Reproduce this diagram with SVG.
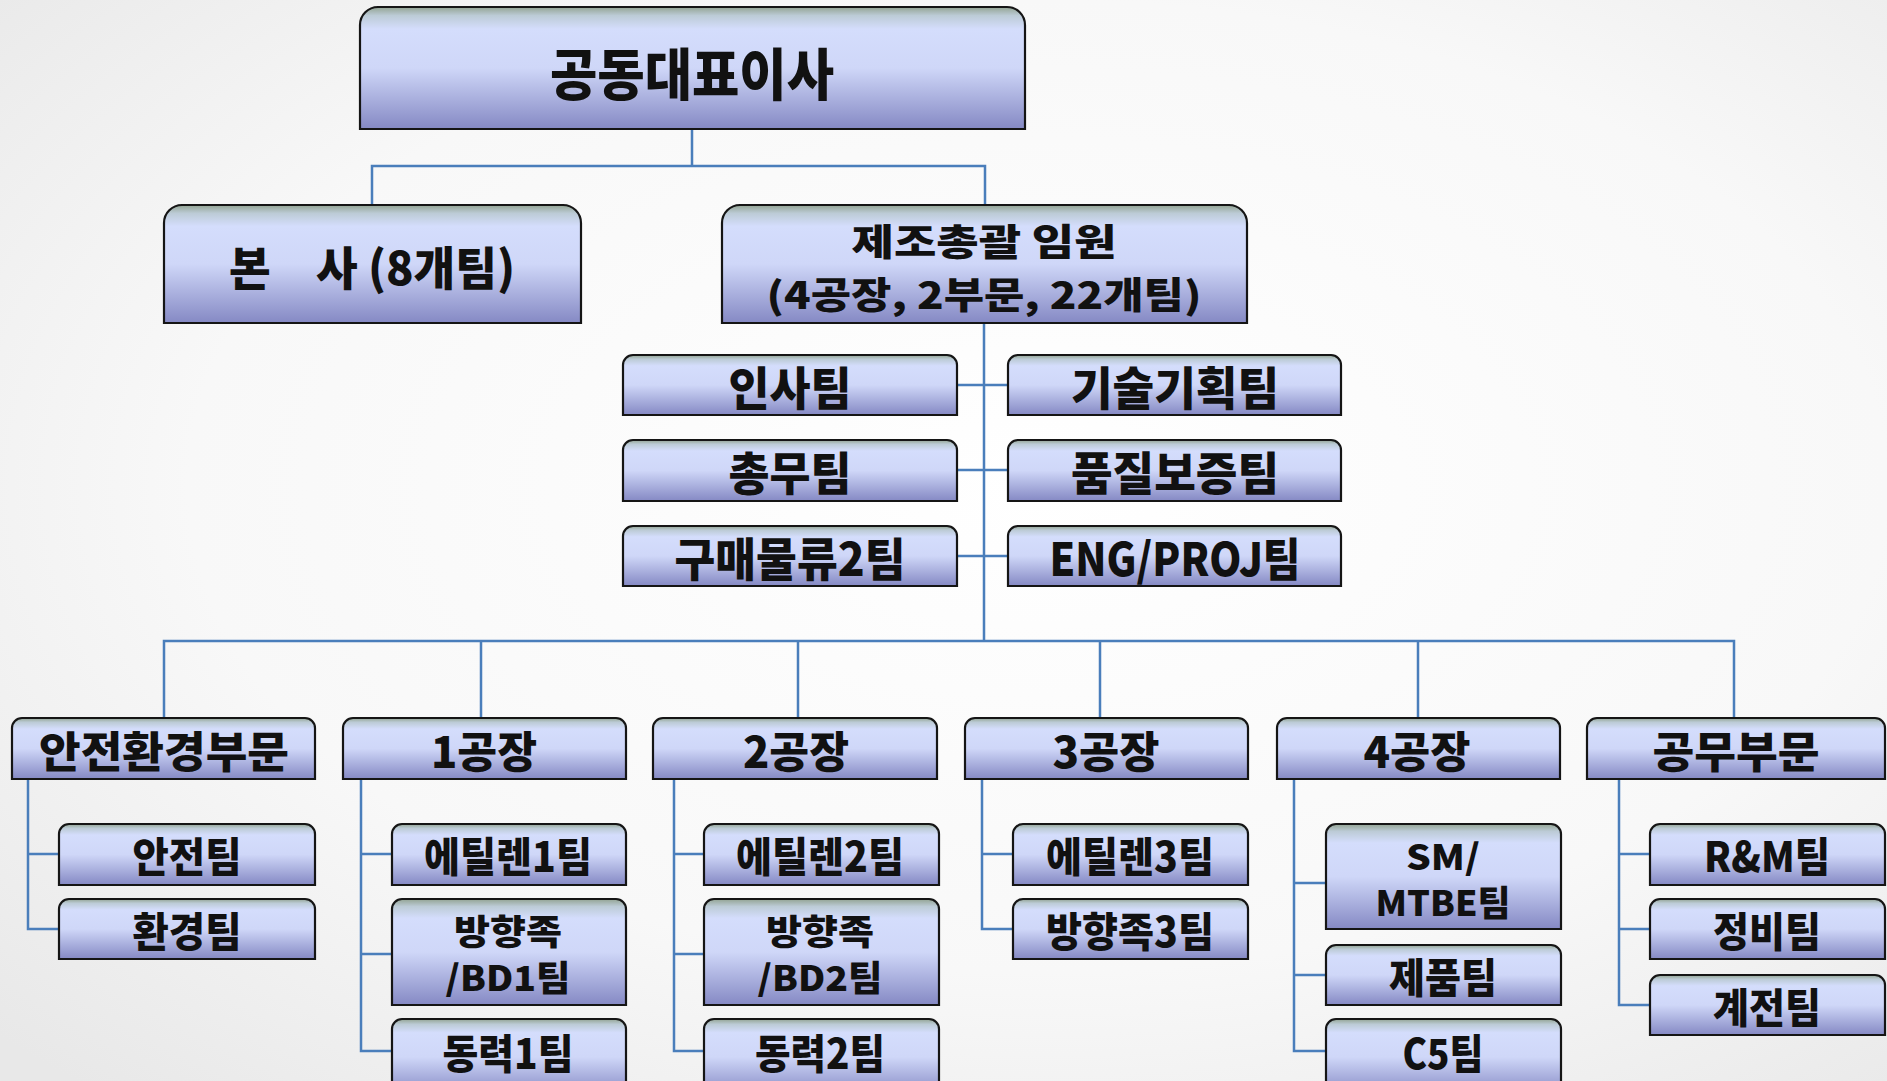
<svg xmlns="http://www.w3.org/2000/svg" width="1887" height="1081" viewBox="0 0 1887 1081">
<defs>
<radialGradient id="bg" cx="55%" cy="45%" r="75%">
<stop offset="0" stop-color="#ffffff"/>
<stop offset="0.6" stop-color="#f8f8f8"/>
<stop offset="1" stop-color="#e8e8e8"/>
</radialGradient>
<linearGradient id="g" x1="0" y1="0" x2="0" y2="1">
<stop offset="0" stop-color="#92a392"/>
<stop offset="0.07" stop-color="#bccbd6"/>
<stop offset="0.18" stop-color="#d4ddfc"/>
<stop offset="0.5" stop-color="#cfd7f8"/>
<stop offset="1" stop-color="#8589c4"/>
</linearGradient>
<style>
.b{fill:url(#g);stroke:#151515;stroke-width:2.2}
.t{font-family:"Noto Sans CJK KR","Noto Sans",sans-serif;font-weight:900;fill:#111;text-anchor:middle;dominant-baseline:central}
.c{fill:none;stroke:#4a7ebb;stroke-width:2.5}
.f56{font-size:56px}.f46{font-size:46px}.f37{font-size:37px}.f43{font-size:43px}.f41{font-size:41px}.f35{font-size:35px}
</style>
</defs>
<rect width="1887" height="1081" fill="url(#bg)"/>
<g id="connectors">
<path class="c" d="M692 129V166M372 205V166H985V205"/>
<path class="c" d="M984 323V641M957 385H1008M957 470H1008M957 556H1008"/>
<path class="c" d="M164 718V641H1734V718M481 641V718M798 641V718M1100 641V718M1418 641V718"/>
<path class="c" d="M28 779V929H59M28 854H59"/>
<path class="c" d="M361 779V1051H392M361 854H392M361 954H392"/>
<path class="c" d="M674 779V1051H704M674 854H704M674 954H704"/>
<path class="c" d="M982 779V929H1013M982 854H1013"/>
<path class="c" d="M1294 779V1051H1326M1294 883H1326M1294 975H1326"/>
<path class="c" d="M1619 779V1005H1650M1619 854H1650M1619 929H1650"/>
</g>
<g id="n-ceo"><path class="b" d="M360 129V25A18 18 0 0 1 378 7H1007A18 18 0 0 1 1025 25V129Z"/><text class="t f56" x="692" y="70" textLength="284" lengthAdjust="spacingAndGlyphs">공동대표이사</text></g>
<g id="n-hq"><path class="b" d="M164 323V223A18 18 0 0 1 182 205H563A18 18 0 0 1 581 223V323Z"/><text class="t f46" x="372" y="265" textLength="286" lengthAdjust="spacingAndGlyphs">본　사 (8개팀)</text></g>
<g id="n-mfg"><path class="b" d="M722 323V223A18 18 0 0 1 740 205H1229A18 18 0 0 1 1247 223V323Z"/><text class="t f37"><tspan x="984" y="240" textLength="265" lengthAdjust="spacingAndGlyphs">제조총괄 임원</tspan><tspan x="984" y="293" textLength="435" lengthAdjust="spacingAndGlyphs">(4공장, 2부문, 22개팀)</tspan></text></g>
<g id="n-hr"><path class="b" d="M623 415V365A10 10 0 0 1 633 355H947A10 10 0 0 1 957 365V415Z"/><text class="t f46" x="790" y="385" textLength="123" lengthAdjust="spacingAndGlyphs">인사팀</text></g>
<g id="n-tech"><path class="b" d="M1008 415V365A10 10 0 0 1 1018 355H1331A10 10 0 0 1 1341 365V415Z"/><text class="t f46" x="1175" y="385" textLength="208" lengthAdjust="spacingAndGlyphs">기술기획팀</text></g>
<g id="n-ga"><path class="b" d="M623 501V450A10 10 0 0 1 633 440H947A10 10 0 0 1 957 450V501Z"/><text class="t f46" x="790" y="470" textLength="123" lengthAdjust="spacingAndGlyphs">총무팀</text></g>
<g id="n-qa"><path class="b" d="M1008 501V450A10 10 0 0 1 1018 440H1331A10 10 0 0 1 1341 450V501Z"/><text class="t f46" x="1175" y="470" textLength="208" lengthAdjust="spacingAndGlyphs">품질보증팀</text></g>
<g id="n-pur"><path class="b" d="M623 586V536A10 10 0 0 1 633 526H947A10 10 0 0 1 957 536V586Z"/><text class="t f46" x="790" y="556" textLength="231" lengthAdjust="spacingAndGlyphs">구매물류2팀</text></g>
<g id="n-eng"><path class="b" d="M1008 586V536A10 10 0 0 1 1018 526H1331A10 10 0 0 1 1341 536V586Z"/><text class="t f46" x="1175" y="556" textLength="251" lengthAdjust="spacingAndGlyphs">ENG/PROJ팀</text></g>
<g id="n-safety-div"><path class="b" d="M12 779V728A10 10 0 0 1 22 718H305A10 10 0 0 1 315 728V779Z"/><text class="t f43" x="164" y="749" textLength="250" lengthAdjust="spacingAndGlyphs">안전환경부문</text></g>
<g id="n-p1"><path class="b" d="M343 779V728A10 10 0 0 1 353 718H616A10 10 0 0 1 626 728V779Z"/><text class="t f43" x="484" y="749" textLength="106" lengthAdjust="spacingAndGlyphs">1공장</text></g>
<g id="n-p2"><path class="b" d="M653 779V728A10 10 0 0 1 663 718H927A10 10 0 0 1 937 728V779Z"/><text class="t f43" x="796" y="749" textLength="106" lengthAdjust="spacingAndGlyphs">2공장</text></g>
<g id="n-p3"><path class="b" d="M965 779V728A10 10 0 0 1 975 718H1238A10 10 0 0 1 1248 728V779Z"/><text class="t f43" x="1106" y="749" textLength="107" lengthAdjust="spacingAndGlyphs">3공장</text></g>
<g id="n-p4"><path class="b" d="M1277 779V728A10 10 0 0 1 1287 718H1550A10 10 0 0 1 1560 728V779Z"/><text class="t f43" x="1417" y="749" textLength="107" lengthAdjust="spacingAndGlyphs">4공장</text></g>
<g id="n-works"><path class="b" d="M1587 779V728A10 10 0 0 1 1597 718H1875A10 10 0 0 1 1885 728V779Z"/><text class="t f43" x="1736" y="749" textLength="167" lengthAdjust="spacingAndGlyphs">공무부문</text></g>
<g id="n-safety"><path class="b" d="M59 885V834A10 10 0 0 1 69 824H305A10 10 0 0 1 315 834V885Z"/><text class="t f41" x="187" y="854" textLength="109" lengthAdjust="spacingAndGlyphs">안전팀</text></g>
<g id="n-env"><path class="b" d="M59 959V909A10 10 0 0 1 69 899H305A10 10 0 0 1 315 909V959Z"/><text class="t f41" x="187" y="929" textLength="109" lengthAdjust="spacingAndGlyphs">환경팀</text></g>
<g id="n-eth1"><path class="b" d="M392 885V834A10 10 0 0 1 402 824H616A10 10 0 0 1 626 834V885Z"/><text class="t f41" x="508" y="854" textLength="168" lengthAdjust="spacingAndGlyphs">에틸렌1팀</text></g>
<g id="n-aro1"><path class="b" d="M392 1005V909A10 10 0 0 1 402 899H616A10 10 0 0 1 626 909V1005Z"/><text class="t f35"><tspan x="508" y="929" textLength="108" lengthAdjust="spacingAndGlyphs">방향족</tspan><tspan x="508" y="975" textLength="125" lengthAdjust="spacingAndGlyphs">/BD1팀</tspan></text></g>
<g id="n-pow1"><path class="b" d="M392 1095V1029A10 10 0 0 1 402 1019H616A10 10 0 0 1 626 1029V1095Z"/><text class="t f41" x="508" y="1051" textLength="131" lengthAdjust="spacingAndGlyphs">동력1팀</text></g>
<g id="n-eth2"><path class="b" d="M704 885V834A10 10 0 0 1 714 824H929A10 10 0 0 1 939 834V885Z"/><text class="t f41" x="820" y="854" textLength="168" lengthAdjust="spacingAndGlyphs">에틸렌2팀</text></g>
<g id="n-aro2"><path class="b" d="M704 1005V909A10 10 0 0 1 714 899H929A10 10 0 0 1 939 909V1005Z"/><text class="t f35"><tspan x="820" y="929" textLength="108" lengthAdjust="spacingAndGlyphs">방향족</tspan><tspan x="820" y="975" textLength="125" lengthAdjust="spacingAndGlyphs">/BD2팀</tspan></text></g>
<g id="n-pow2"><path class="b" d="M704 1095V1029A10 10 0 0 1 714 1019H929A10 10 0 0 1 939 1029V1095Z"/><text class="t f41" x="820" y="1051" textLength="130" lengthAdjust="spacingAndGlyphs">동력2팀</text></g>
<g id="n-eth3"><path class="b" d="M1013 885V834A10 10 0 0 1 1023 824H1238A10 10 0 0 1 1248 834V885Z"/><text class="t f41" x="1130" y="854" textLength="168" lengthAdjust="spacingAndGlyphs">에틸렌3팀</text></g>
<g id="n-aro3"><path class="b" d="M1013 959V909A10 10 0 0 1 1023 899H1238A10 10 0 0 1 1248 909V959Z"/><text class="t f41" x="1130" y="929" textLength="168" lengthAdjust="spacingAndGlyphs">방향족3팀</text></g>
<g id="n-sm"><path class="b" d="M1326 929V834A10 10 0 0 1 1336 824H1551A10 10 0 0 1 1561 834V929Z"/><text class="t f35"><tspan x="1443" y="854" textLength="74" lengthAdjust="spacingAndGlyphs">SM/</tspan><tspan x="1443" y="900" textLength="135" lengthAdjust="spacingAndGlyphs">MTBE팀</tspan></text></g>
<g id="n-prod"><path class="b" d="M1326 1005V955A10 10 0 0 1 1336 945H1551A10 10 0 0 1 1561 955V1005Z"/><text class="t f41" x="1443" y="975" textLength="108" lengthAdjust="spacingAndGlyphs">제품팀</text></g>
<g id="n-c5"><path class="b" d="M1326 1095V1029A10 10 0 0 1 1336 1019H1551A10 10 0 0 1 1561 1029V1095Z"/><text class="t f41" x="1443" y="1051" textLength="81" lengthAdjust="spacingAndGlyphs">C5팀</text></g>
<g id="n-rm"><path class="b" d="M1650 885V834A10 10 0 0 1 1660 824H1875A10 10 0 0 1 1885 834V885Z"/><text class="t f41" x="1767" y="854" textLength="126" lengthAdjust="spacingAndGlyphs">R&amp;M팀</text></g>
<g id="n-maint"><path class="b" d="M1650 959V909A10 10 0 0 1 1660 899H1875A10 10 0 0 1 1885 909V959Z"/><text class="t f41" x="1767" y="929" textLength="108" lengthAdjust="spacingAndGlyphs">정비팀</text></g>
<g id="n-elec"><path class="b" d="M1650 1035V985A10 10 0 0 1 1660 975H1875A10 10 0 0 1 1885 985V1035Z"/><text class="t f41" x="1767" y="1005" textLength="108" lengthAdjust="spacingAndGlyphs">계전팀</text></g>
</svg>
